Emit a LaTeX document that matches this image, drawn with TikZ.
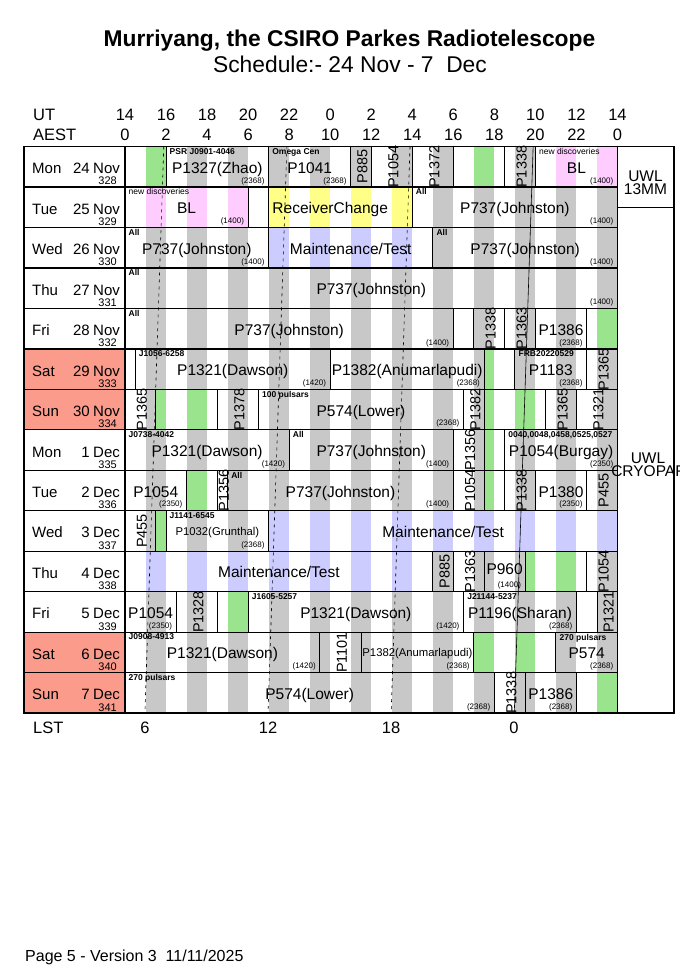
\documentclass[tikz,border=0pt]{standalone}
\usepackage{fontspec}
\setmainfont{Liberation Sans}
\usepackage{xcolor}
\usepackage{tikz}
\definecolor{obs}{RGB}{200,200,200}
\definecolor{fgreen}{RGB}{154,228,142}
\definecolor{fpink}{RGB}{255,204,255}
\definecolor{fyellow}{RGB}{255,255,136}
\definecolor{fblue}{RGB}{204,204,255}
\definecolor{wkend}{RGB}{250,155,140}
\newcommand\fsz[1]{\fontsize{#1bp}{#1bp}\selectfont}
% one block of the schedule: row, from, to (hours after 14 UT), colour of its stripes
\newcommand\prog[4]{%
  \begin{scope}
    \clip (#2,#1-1) rectangle (#3,#1);
    \foreach \k in {1,3,...,23} \fill[#4] (\k,#1-1) rectangle (\k+1,#1);
  \end{scope}
  \draw[blk] (#2,#1-1) rectangle (#3,#1);}
% row label: row, weekday, date, month, day number, fill
\newcommand\dayrow[6]{%
  \fill[#6] (24,#1-1) rectangle (125,#1);
  \node[dname] (wd#1) at (32,#1-.5) {#2};
  \node[ddate] (dt#1) at (90,#1-.5) {#3};
  \node[dmon] (mo#1) at (93,#1-.5) {#4};
  \node[dnum] (dn#1) at (117,#1) {#5};}
\tikzset{
  blk/.style={line width=0.9bp},
  main/.style={font=\fsz{15.5},anchor=base,yshift=-6.5bp,inner sep=0pt},
  small/.style={main,font=\fsz{11.3},yshift=2bp},
  rot/.style={font=\fsz{14.5},xshift=1.5bp,rotate=90,inner sep=0pt},
  tag/.style={font=\bfseries\fsz{8.5},anchor=north west,inner sep=0pt,xshift=3.5bp,yshift=-1.5bp},
  plain/.style={tag,font=\fsz{8.5}},
  band/.style={font=\fsz{8},anchor=south east,inner sep=0pt,xshift=-4bp,yshift=2bp},
  lst/.style={line width=0.6bp,dash pattern=on 3bp off 4bp},
  hdr/.style={font=\fsz{16.5},anchor=base,inner sep=0pt},
  dname/.style={font=\fsz{15},anchor=base west,yshift=-7bp,inner sep=0pt},
  ddate/.style={dname,anchor=base east},
  dmon/.style={dname},
  dnum/.style={font=\fsz{11},anchor=base east,yshift=2bp,inner sep=0pt},
  rx/.style={font=\fontsize{15.5bp}{13bp}\selectfont,align=center,inner sep=0pt}
}
\begin{document}
\begin{tikzpicture}[x=1bp,y=-1bp]
\useasboundingbox[fill=white] (0,0) rectangle (680,978);
\node[font=\bfseries\fsz{22.8},anchor=base] (title) at (349.5,46) {Murriyang, the CSIRO Parkes Radiotelescope};
\node[font=\fsz{22.8},anchor=base] (sub) at (350,72) {Schedule:- 24 Nov - 7~~Dec};
% time axes
\node[hdr,anchor=base west] (utl) at (33,120) {UT};
\node[hdr,anchor=base west] (aestl) at (33,140) {AEST};
\foreach \i in {0,...,12}{
  \pgfmathtruncatemacro\utv{mod(14+2*\i,24)}
  \pgfmathtruncatemacro\aest{mod(2*\i,24)}
  \node[hdr] (ut\i) at (125+41.04*\i,120) {\utv};
  \node[hdr] (aest\i) at (125+41.04*\i,140) {\aest};
}
% day labels
\begin{scope}[shift={(0,146.5)},y=-40.47bp]
  \dayrow{1}{Mon}{24}{Nov}{328}{white}
  \dayrow{2}{Tue}{25}{Nov}{329}{white}
  \dayrow{3}{Wed}{26}{Nov}{330}{white}
  \dayrow{4}{Thu}{27}{Nov}{331}{white}
  \dayrow{5}{Fri}{28}{Nov}{332}{white}
  \dayrow{6}{Sat}{29}{Nov}{333}{wkend}
  \dayrow{7}{Sun}{30}{Nov}{334}{wkend}
  \dayrow{8}{Mon}{1}{Dec}{335}{white}
  \dayrow{9}{Tue}{2}{Dec}{336}{white}
  \dayrow{10}{Wed}{3}{Dec}{337}{white}
  \dayrow{11}{Thu}{4}{Dec}{338}{white}
  \dayrow{12}{Fri}{5}{Dec}{339}{white}
  \dayrow{13}{Sat}{6}{Dec}{340}{wkend}
  \dayrow{14}{Sun}{7}{Dec}{341}{wkend}
\end{scope}
% schedule, x in hours after 14 UT, y in rows
\begin{scope}[shift={(125,146.5)},x=20.52bp,y=-40.47bp]
  % row 1
  \prog{1}{0}{2}{fgreen}
  \prog{1}{2}{7}{obs}
  \prog{1}{7}{11}{obs}
  \prog{1}{11}{12}{obs}
  \prog{1}{12}{14}{obs}
  \prog{1}{14}{16}{obs}
  \prog{1}{16}{18.5}{fgreen}
  \prog{1}{18.5}{20}{obs}
  \prog{1}{20}{24}{fpink}
  % row 2
  \prog{2}{0}{6}{fpink}
  \prog{2}{6}{7}{white}
  \prog{2}{7}{14}{fyellow}
  \prog{2}{14}{24}{obs}
  % row 3
  \prog{3}{0}{7}{obs}
  \prog{3}{7}{15}{fblue}
  \prog{3}{15}{24}{obs}
  % row 4
  \prog{4}{0}{24}{obs}
  % row 5
  \prog{5}{0}{16}{obs}
  \prog{5}{16}{17}{white}
  \prog{5}{17}{18.5}{obs}
  \prog{5}{18.5}{20}{obs}
  \prog{5}{20}{22.5}{obs}
  \prog{5}{22.5}{24}{fgreen}
  % row 6
  \prog{6}{0}{.5}{white}
  \prog{6}{.5}{10}{obs}
  \prog{6}{10}{17.5}{obs}
  \prog{6}{17.5}{19}{fgreen}
  \prog{6}{19}{22.5}{obs}
  \prog{6}{22.5}{24}{obs}
  % row 7
  \prog{7}{0}{1.5}{obs}
  \prog{7}{1.5}{4.5}{fgreen}
  \prog{7}{4.5}{6.5}{obs}
  \prog{7}{6.5}{16.5}{obs}
  \prog{7}{16.5}{17.5}{obs}
  \prog{7}{17.5}{20.5}{fgreen}
  \prog{7}{20.5}{22}{obs}
  \prog{7}{22}{24}{obs}
  % row 8
  \prog{8}{0}{8}{obs}
  \prog{8}{8}{16}{obs}
  \prog{8}{16}{17.5}{obs}
  \prog{8}{17.5}{18.5}{fgreen}
  \prog{8}{18.5}{24}{obs}
  % row 9
  \prog{9}{0}{3}{obs}
  \prog{9}{3}{4.5}{fgreen}
  \prog{9}{4.5}{5}{obs}
  \prog{9}{5}{16}{obs}
  \prog{9}{16}{17.5}{obs}
  \prog{9}{17.5}{18.5}{fgreen}
  \prog{9}{18.5}{20}{obs}
  \prog{9}{20}{22.5}{obs}
  \prog{9}{22.5}{24}{obs}
  % row 10
  \prog{10}{0}{1.5}{obs}
  \prog{10}{1.5}{2}{fgreen}
  \prog{10}{2}{7}{obs}
  \prog{10}{7}{24}{fblue}
  % row 11
  \prog{11}{0}{15}{fblue}
  \prog{11}{15}{16}{obs}
  \prog{11}{16}{17.5}{obs}
  \prog{11}{17.5}{19.5}{obs}
  \prog{11}{19.5}{22.5}{fgreen}
  \prog{11}{22.5}{24}{obs}
  % row 12
  \prog{12}{0}{2.5}{obs}
  \prog{12}{2.5}{4.5}{obs}
  \prog{12}{4.5}{6}{fgreen}
  \prog{12}{6}{16.5}{obs}
  \prog{12}{16.5}{22}{obs}
  \prog{12}{22}{23}{white}
  \prog{12}{23}{24}{obs}
  % row 13
  \prog{13}{0}{9.5}{obs}
  \prog{13}{9.5}{11.5}{obs}
  \prog{13}{11.5}{17}{obs}
  \prog{13}{17}{21}{fgreen}
  \prog{13}{21}{24}{obs}
  % row 14
  \prog{14}{0}{18}{obs}
  \prog{14}{18}{19.5}{obs}
  \prog{14}{19.5}{22}{obs}
  \prog{14}{22}{24}{fgreen}
  % LST lines
  \draw[lst] (1.89,0) -- (0.97,14);
  \draw[lst] (7.89,0) -- (6.97,14);
  \draw[lst] (13.89,0) -- (12.97,14);
  \draw[line width=0.6bp] (19.89,0) -- (18.97,14);
  % texts, row 1
  \node[tag] (r1t1) at (2,0) {PSR J0901-4046};
  \node[main] (r1m1) at (4.5,.5) {P1327(Zhao)};
  \node[band] (r1b1) at (7,1) {(2368)};
  \node[tag] (r1t2) at (7,0) {Omega Cen};
  \node[main] (r1m2) at (9,.5) {P1041};
  \node[band] (r1b2) at (11,1) {(2368)};
  \node[rot] (r1r1) at (11.5,.5) {P885};
  \node[rot] (r1r2) at (13,.5) {P1054};
  \node[rot] (r1r3) at (15,.5) {P1372};
  \node[rot] (r1r4) at (19.25,.5) {P1338};
  \node[plain] (r1t3) at (20,0) {new discoveries};
  \node[main] (r1m3) at (22,.5) {BL};
  \node[band] (r1b3) at (24,1) {(1400)};
  % row 2
  \node[plain] (r2t1) at (0,1) {new discoveries};
  \node[main] (r2m1) at (3,1.5) {BL};
  \node[band] (r2b1) at (6,2) {(1400)};
  \node[main] (r2m2) at (10,1.5) {ReceiverChange};
  \node[tag] (r2t2) at (14,1) {All};
  \node[main] (r2m3) at (19,1.5) {P737(Johnston)};
  \node[band] (r2b3) at (24,2) {(1400)};
  % row 3
  \node[tag] (r3t1) at (0,2) {All};
  \node[main] (r3m1) at (3.5,2.5) {P737(Johnston)};
  \node[band] (r3b1) at (7,3) {(1400)};
  \node[main] (r3m2) at (11,2.5) {Maintenance/Test};
  \node[tag] (r3t3) at (15,2) {All};
  \node[main] (r3m3) at (19.5,2.5) {P737(Johnston)};
  \node[band] (r3b3) at (24,3) {(1400)};
  % row 4
  \node[tag] (r4t1) at (0,3) {All};
  \node[main] (r4m1) at (12,3.5) {P737(Johnston)};
  \node[band] (r4b1) at (24,4) {(1400)};
  % row 5
  \node[tag] (r5t1) at (0,4) {All};
  \node[main] (r5m1) at (8,4.5) {P737(Johnston)};
  \node[band] (r5b1) at (16,5) {(1400)};
  \node[rot] (r5r1) at (17.75,4.5) {P1338};
  \node[rot] (r5r2) at (19.25,4.5) {P1363};
  \node[main] (r5m2) at (21.25,4.5) {P1386};
  \node[band] (r5b2) at (22.5,5) {(2368)};
  % row 6
  \node[tag] (r6t1) at (.5,5) {J1056-6258};
  \node[main] (r6m1) at (5.25,5.5) {P1321(Dawson)};
  \node[band] (r6b1) at (10,6) {(1420)};
  \node[main] (r6m2) at (13.75,5.5) {P1382(Anumarlapudi)};
  \node[band] (r6b2) at (17.5,6) {(2368)};
  \node[tag] (r6t3) at (19,5) {FRB20220529};
  \node[main] (r6m3) at (20.75,5.5) {P1183};
  \node[band] (r6b3) at (22.5,6) {(2368)};
  \node[rot] (r6r1) at (23.25,5.5) {P1365};
  % row 7
  \node[rot] (r7r1) at (.75,6.5) {P1365};
  \node[rot] (r7r2) at (5.5,6.5) {P1378};
  \node[tag] (r7t1) at (6.5,6) {100 pulsars};
  \node[main] (r7m1) at (11.5,6.5) {P574(Lower)};
  \node[band] (r7b1) at (16.5,7) {(2368)};
  \node[rot] (r7r3) at (17,6.5) {P1382};
  \node[rot] (r7r4) at (21.25,6.5) {P1365};
  \node[rot] (r7r5) at (23,6.5) {P1321};
  % row 8
  \node[tag] (r8t1) at (0,7) {J0738-4042};
  \node[main] (r8m1) at (4,7.5) {P1321(Dawson)};
  \node[band] (r8b1) at (8,8) {(1420)};
  \node[tag] (r8t2) at (8,7) {All};
  \node[main] (r8m2) at (12,7.5) {P737(Johnston)};
  \node[band] (r8b2) at (16,8) {(1400)};
  \node[rot] (r8r1) at (16.75,7.5) {P1356};
  \node[tag] (r8t3) at (18.5,7) {0040,0048,0458,0525,0527};
  \node[main] (r8m3) at (21.25,7.5) {P1054(Burgay)};
  \node[band] (r8b3) at (24,8) {(2350)};
  % row 9
  \node[main] (r9m1) at (1.5,8.5) {P1054};
  \node[band] (r9b1) at (3,9) {(2350)};
  \node[rot] (r9r1) at (4.75,8.5) {P1356};
  \node[tag] (r9t2) at (5,8) {All};
  \node[main] (r9m2) at (10.5,8.5) {P737(Johnston)};
  \node[band] (r9b2) at (16,9) {(1400)};
  \node[rot] (r9r2) at (16.75,8.5) {P1054};
  \node[rot] (r9r3) at (19.25,8.5) {P1338};
  \node[main] (r9m3) at (21.25,8.5) {P1380};
  \node[band] (r9b3) at (22.5,9) {(2350)};
  \node[rot] (r9r4) at (23.25,8.5) {P455};
  % row 10
  \node[rot] (r10r1) at (.75,9.5) {P455};
  \node[tag] (r10t1) at (2,9) {J1141-6545};
  \node[small] (r10m1) at (4.5,9.5) {P1032(Grunthal)};
  \node[band] (r10b1) at (7,10) {(2368)};
  \node[main] (r10m2) at (15.5,9.5) {Maintenance/Test};
  % row 11
  \node[main] (r11m1) at (7.5,10.5) {Maintenance/Test};
  \node[rot] (r11r1) at (15.5,10.5) {P885};
  \node[rot] (r11r2) at (16.75,10.5) {P1363};
  \node[main,yshift=3bp] (r11m2) at (18.5,10.5) {P960};
  \node[band] (r11b2) at (19.5,11) {(1400)};
  \node[rot] (r11r3) at (23.25,10.5) {P1054};
  % row 12
  \node[main] (r12m1) at (1.25,11.5) {P1054};
  \node[band] (r12b1) at (2.5,12) {(2350)};
  \node[rot] (r12r1) at (3.5,11.5) {P1328};
  \node[tag] (r12t2) at (6,11) {J1605-5257};
  \node[main] (r12m2) at (11.25,11.5) {P1321(Dawson)};
  \node[band] (r12b2) at (16.5,12) {(1420)};
  \node[tag] (r12t3) at (16.5,11) {J21144-5237};
  \node[main] (r12m3) at (19.25,11.5) {P1196(Sharan)};
  \node[band] (r12b3) at (22,12) {(2368)};
  \node[rot] (r12r2) at (23.5,11.5) {P1321};
  % row 13
  \node[tag] (r13t1) at (0,12) {J0908-4913};
  \node[main] (r13m1) at (4.75,12.5) {P1321(Dawson)};
  \node[band] (r13b1) at (9.5,13) {(1420)};
  \node[rot] (r13r1) at (10.5,12.5) {P1101};
  \node[small] (r13m2) at (14.25,12.5) {P1382(Anumarlapudi)};
  \node[band] (r13b2) at (17,13) {(2368)};
  \node[tag] (r13t3) at (21,12) {270 pulsars};
  \node[main] (r13m3) at (22.5,12.5) {P574};
  \node[band] (r13b3) at (24,13) {(2368)};
  % row 14
  \node[tag] (r14t1) at (0,13) {270 pulsars};
  \node[main] (r14m1) at (9,13.5) {P574(Lower)};
  \node[band] (r14b1) at (18,14) {(2368)};
  \node[rot] (r14r1) at (18.75,13.5) {P1338};
  \node[main] (r14m2) at (20.75,13.5) {P1386};
  \node[band] (r14b2) at (22,14) {(2368)};
\end{scope}
% row lines and frame
\begin{scope}[shift={(0,146.5)},y=-40.47bp]
  \foreach \r in {1,...,13} \draw[line width=1.3bp] (24,\r) -- (617.5,\r);
  \draw[line width=1.5bp] (24,0) rectangle (617.5,14);
  \draw[line width=1.8bp] (125,0) -- (125,14);
  \draw[line width=1.2bp] (617.5,0) rectangle (674,14);
  \draw[line width=1.2bp] (617.5,1.5) -- (674,1.5);
\end{scope}
\node[rx] (rx1) at (645.5,183) {UWL\\13MM};
\node[rx] (rx2) at (648,465) {UWL\\CRYOPAF};
% LST axis
\node[hdr,anchor=base west] (lstl) at (33,733) {LST};
\node[hdr] (lst6) at (144.9,733) {6};
\node[hdr] (lst12) at (268,733) {12};
\node[hdr] (lst18) at (391,733) {18};
\node[hdr] (lst0) at (514,733) {0};
\node[font=\fsz{16},anchor=base west,inner sep=0pt] (foot) at (25,961) {Page 5 - Version 3~~11/11/2025};
\end{tikzpicture}
\end{document}
